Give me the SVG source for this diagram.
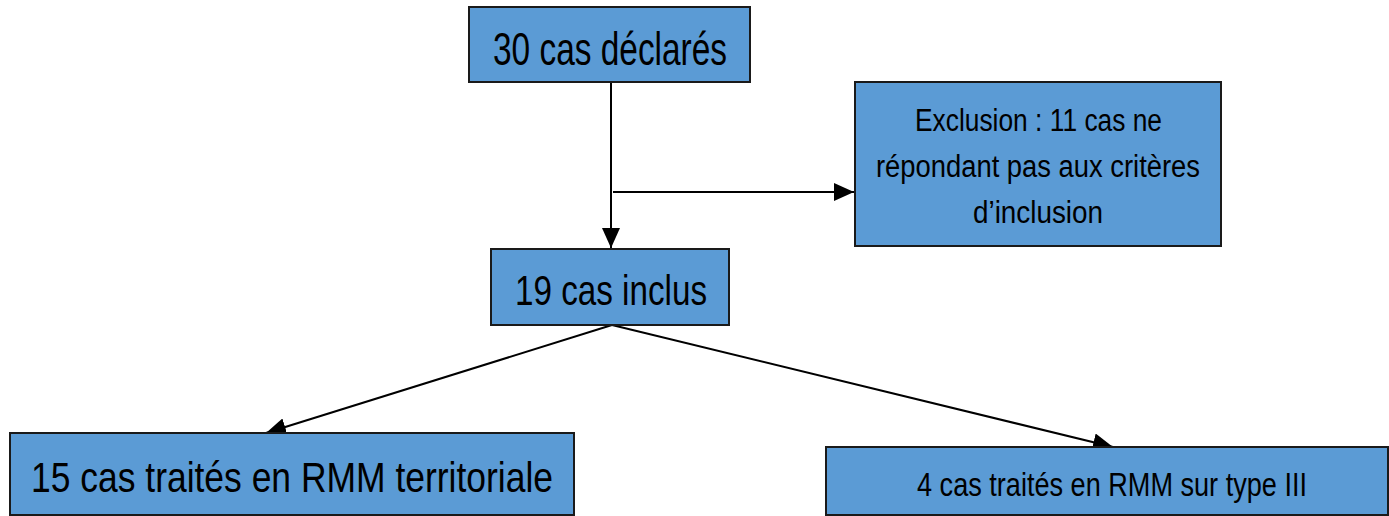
<svg xmlns="http://www.w3.org/2000/svg" width="1389" height="516" viewBox="0 0 1389 516">
<style>
.box{fill:#5B9BD5;stroke:#1a1a1a;stroke-width:2}
.t{font-family:"Liberation Sans",Arial,sans-serif;fill:#000}
.c{stroke:#000;stroke-width:2;fill:none}
</style>
<defs>
<marker id="ah" markerUnits="userSpaceOnUse" markerWidth="20" markerHeight="18" refX="20" refY="9" orient="auto">
<path d="M0,0 L20,9 L0,18 Z" fill="#000"/>
</marker>
</defs>
<rect width="1389" height="516" fill="#fff"/>
<g id="connectors">
<line class="c" x1="611" y1="82" x2="611" y2="248" marker-end="url(#ah)"/>
<line class="c" x1="613" y1="192" x2="854" y2="192" marker-end="url(#ah)"/>
<line class="c" x1="612" y1="325" x2="266" y2="433" marker-end="url(#ah)"/>
<line class="c" x1="612" y1="325" x2="1113" y2="447" marker-end="url(#ah)"/>
</g>
<g id="n1">
<rect class="box" x="469" y="7" width="281" height="75"/>
<text class="t" x="493" y="65" font-size="46" textLength="234" lengthAdjust="spacingAndGlyphs">30 cas déclarés</text>
</g>
<g id="n2">
<rect class="box" x="855" y="82" width="366" height="164"/>
<text class="t" x="915" y="131" font-size="31" textLength="247" lengthAdjust="spacingAndGlyphs">Exclusion : 11 cas ne</text>
<text class="t" x="876" y="177" font-size="31" textLength="324" lengthAdjust="spacingAndGlyphs">répondant pas aux critères</text>
<text class="t" x="973" y="223" font-size="31" textLength="130" lengthAdjust="spacingAndGlyphs">d’inclusion</text>
</g>
<g id="n3">
<rect class="box" x="491" y="249" width="238" height="76"/>
<text class="t" x="515" y="305" font-size="42" textLength="192" lengthAdjust="spacingAndGlyphs">19 cas inclus</text>
</g>
<g id="n4">
<rect class="box" x="10" y="433" width="564" height="82"/>
<text class="t" x="31" y="492" font-size="43" textLength="522" lengthAdjust="spacingAndGlyphs">15 cas traités en RMM territoriale</text>
</g>
<g id="n5">
<rect class="box" x="826" y="447" width="562" height="68"/>
<text class="t" x="917" y="496" font-size="33" textLength="390" lengthAdjust="spacingAndGlyphs">4 cas traités en RMM sur type III</text>
</g>
</svg>
